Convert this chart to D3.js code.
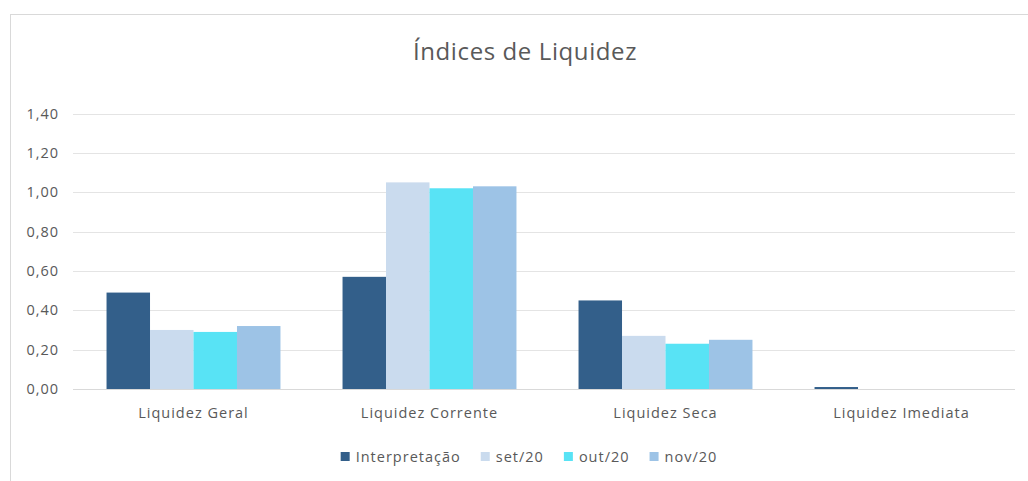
<!DOCTYPE html>
<html>
<head>
<meta charset="utf-8">
<script src="https://cdn.jsdelivr.net/npm/d3@7"></script>
<style>
  body { margin: 0; background: #fff; }
  text { font-family: "Open Sans", "Noto Sans", sans-serif; fill: #595959; }
</style>
</head>
<body>
<svg id="chart" width="1028" height="481"></svg>
<script>
// data
var categories = ["Liquidez Geral", "Liquidez Corrente", "Liquidez Seca", "Liquidez Imediata"];
var seriesNames = ["Interpretação", "set/20", "out/20", "nov/20"];
var interpretacao = [0.49, 0.57, 0.45, 0.01];
var set20 = [0.30, 1.05, 0.27, 0];
var out20 = [0.29, 1.02, 0.23, 0];
var nov20 = [0.32, 1.03, 0.25, 0];
var yTicks = [0, 0.2, 0.4, 0.6, 0.8, 1.0, 1.2, 1.4];
var colors = ["#335f8a", "#cadbee", "#58e3f5", "#9dc3e6"];

var seriesValues = [interpretacao, set20, out20, nov20];

var svg = d3.select("svg#chart");

// chart frame
svg.append("rect")
  .attr("x", 10.5).attr("y", 14.5)
  .attr("width", 1040).attr("height", 500)
  .attr("fill", "#fff")
  .attr("stroke", "#d9d9d9");

// title
svg.append("text")
  .attr("x", 525).attr("y", 60)
  .attr("text-anchor", "middle")
  .style("font-size", "24px")
  .style("letter-spacing", "0.6px")
  .text("Índices de Liquidez");

var x0 = d3.scaleBand()
  .domain(categories)
  .range([75.5, 1019.5])
  .paddingInner(0.263)
  .paddingOuter(0.1315);

var x1 = d3.scaleBand()
  .domain(seriesNames)
  .range([0, x0.bandwidth()]);

var y = d3.scaleLinear()
  .domain([0, 1.4])
  .range([389, 113.5]);

// gridlines
svg.append("g")
  .selectAll("line")
  .data(yTicks)
  .enter()
  .append("line")
  .attr("x1", 73).attr("x2", 1015)
  .attr("y1", function (d) { return Math.round(y(d)) + 0.5; })
  .attr("y2", function (d) { return Math.round(y(d)) + 0.5; })
  .attr("stroke", "#e4e4e4");

// y tick labels
var fmt = function (d) { return d3.format(".2f")(d).replace(".", ","); };
svg.append("g")
  .selectAll("text")
  .data(yTicks)
  .enter()
  .append("text")
  .attr("x", 59)
  .attr("y", function (d) { return y(d); })
  .attr("dy", "0.35em")
  .attr("text-anchor", "end")
  .style("font-size", "14.5px")
  .style("letter-spacing", "1px")
  .text(fmt);

// bars
var rows = categories.map(function (c, i) {
  return seriesNames.map(function (s, j) {
    return {cat: c, series: s, value: seriesValues[j][i], color: colors[j]};
  });
});

svg.append("g")
  .selectAll("g")
  .data(rows)
  .enter()
  .append("g")
  .attr("transform", function (d) { return "translate(" + x0(d[0].cat) + ",0)"; })
  .selectAll("rect")
  .data(function (d) { return d; })
  .enter()
  .append("rect")
  .attr("x", function (d) { return x1(d.series); })
  .attr("width", x1.bandwidth())
  .attr("y", function (d) { return y(d.value); })
  .attr("height", function (d) { return y(0) - y(d.value); })
  .attr("fill", function (d) { return d.color; })
  .append("title")
  .text(function (d) { return d.cat + " / " + d.series + ": " + fmt(d.value); });

// baseline
svg.append("line")
  .attr("x1", 73).attr("x2", 1015)
  .attr("y1", 389.5).attr("y2", 389.5)
  .attr("stroke", "#d9d9d9");

// category labels
svg.append("g")
  .selectAll("text")
  .data(categories)
  .enter()
  .append("text")
  .attr("x", function (d) { return x0(d) + x0.bandwidth() / 2; })
  .attr("y", 418)
  .attr("text-anchor", "middle")
  .style("font-size", "14.5px")
  .style("letter-spacing", "1px")
  .text(function (d) { return d; });

// legend
var legend = svg.append("g");
var items = legend.selectAll("g")
  .data(seriesNames)
  .enter()
  .append("g");

items.append("rect")
  .attr("width", 9).attr("height", 9)
  .attr("y", -5)
  .attr("fill", function (d, i) { return colors[i]; });

items.append("text")
  .attr("x", 15)
  .attr("dy", "0.35em")
  .style("font-size", "14.5px")
  .style("letter-spacing", "1px")
  .text(function (d) { return d; });

var pos = 0;
var offsets = [];
items.each(function () {
  offsets.push(pos);
  pos += 15 + d3.select(this).select("text").node().getComputedTextLength() + 20;
});
var total = pos - 20;
items.attr("transform", function (d, i) {
  return "translate(" + (offsets[i] + 529 - total / 2) + ",457)";
});
</script>
</body>
</html>
